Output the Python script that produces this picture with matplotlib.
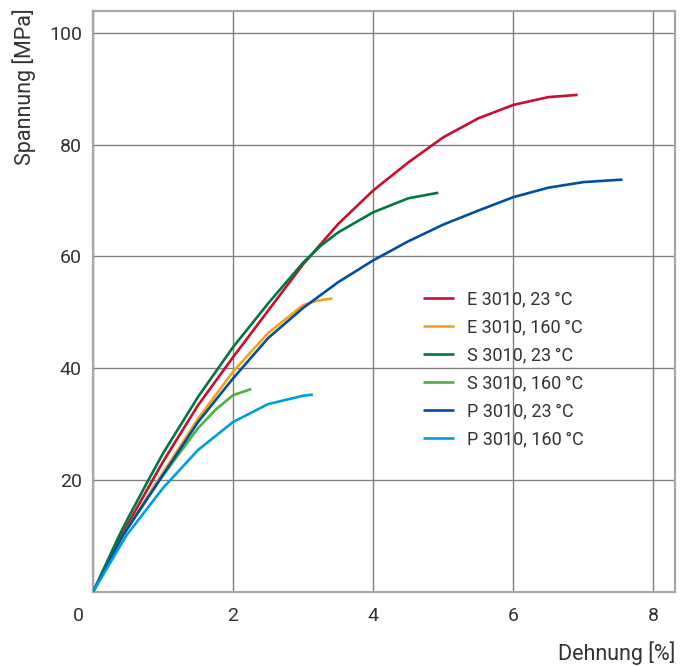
import matplotlib
matplotlib.use("Agg")
import matplotlib.pyplot as plt
import matplotlib.transforms as mtransforms

# strain [%] / stress [MPa]
e23_x = [0, 0.40, 0.85, 1.0, 1.5, 2.0, 2.5, 3.0, 3.5, 4.0, 4.5, 5.0, 5.5, 6.0, 6.5, 6.92]
e23_y = [0, 10, 20, 23.3, 33.4, 42.0, 50.3, 58.6, 65.8, 71.8, 76.8, 81.3, 84.7, 87.1, 88.5, 88.9]

e160_x = [0, 0.42, 0.93, 1.5, 2.0, 2.5, 3.0, 3.2, 3.42]
e160_y = [0, 10, 20, 31.0, 39.4, 46.3, 51.3, 52.1, 52.5]

s23_x = [0, 0.37, 0.5, 0.79, 1.0, 1.5, 2.0, 2.5, 3.0, 3.25, 3.5, 4.0, 4.5, 4.93]
s23_y = [0, 10, 13.2, 20, 24.8, 34.9, 43.8, 51.6, 58.9, 61.9, 64.3, 67.9, 70.4, 71.4]

s160_x = [0, 0.42, 0.95, 1.5, 1.75, 2.0, 2.26]
s160_y = [0, 10, 20, 29.3, 32.6, 35.2, 36.3]

p23_x = [0, 0.42, 0.95, 1.5, 2.0, 2.5, 3.0, 3.5, 4.0, 4.5, 5.0, 5.5, 6.0, 6.5, 7.0, 7.56]
p23_y = [0, 10, 20, 30.4, 38.2, 45.4, 50.8, 55.4, 59.3, 62.7, 65.7, 68.2, 70.6, 72.3, 73.3, 73.75]

p160_x = [0, 0.47, 1.0, 1.5, 2.0, 2.5, 3.0, 3.14]
p160_y = [0, 10, 18.6, 25.4, 30.4, 33.6, 35.1, 35.3]

labels = ["E 3010, 23\u2009°C", "E 3010, 160\u2009°C", "S 3010, 23\u2009°C",
          "S 3010, 160\u2009°C", "P 3010, 23\u2009°C", "P 3010, 160\u2009°C"]
colors = ["#c8102e", "#f7a11a", "#00793f", "#4cb140", "#0050a0", "#009ee0"]

xticks = [0, 2, 4, 6, 8]
yticks = [20, 40, 60, 80, 100]

plt.rcParams['font.family'] = ['Roboto', 'DejaVu Sans']
txt = "#333333"

fig = plt.figure(figsize=(6.92, 6.66), dpi=100)
ax = fig.add_axes([93/692, 1 - 592/666, 582/692, 581/666])

series = [(e23_x, e23_y), (e160_x, e160_y), (s23_x, s23_y),
          (s160_x, s160_y), (p23_x, p23_y), (p160_x, p160_y)]
for (xs, ys), lab, c in zip(series, labels, colors):
    ax.plot(xs, ys, color=c, lw=1.9, label=lab, solid_capstyle='butt',
            solid_joinstyle='round', zorder=3)

ax.set_xlim(0, 8.31)
ax.set_ylim(0, 103.9)
ax.set_xticks(xticks)
ax.set_yticks(yticks)
ax.grid(True, color="#808080", lw=1.0, zorder=1)
for sp in ax.spines.values():
    sp.set_color("#a8a8a8")
    sp.set_linewidth(1.6)
ax.tick_params(length=0, labelsize=14, colors=txt)
ax.tick_params(axis='x', pad=11)
ax.tick_params(axis='y', pad=8)

# the "0" sits a little left of the corner
shift = mtransforms.ScaledTranslation(-0.15, 0, fig.dpi_scale_trans)
lab0 = ax.get_xticklabels()[0]
lab0.set_transform(lab0.get_transform() + shift)

fig.text(12/692, 1 - 8/666, "Spannung [MPa]", rotation=90, ha='left', va='top',
         fontsize=15.5, color=txt)
fig.text(675/692, 1 - 653/666, "Dehnung [%]", ha='right', va='center',
         fontsize=15.5, color=txt)

ax.legend(loc='upper left', bbox_to_anchor=((423 - 93) / 582, (592 - 290) / 581),
          frameon=False, fontsize=13, handlelength=1.7, handletextpad=0.75,
          labelspacing=0.56, borderpad=0, borderaxespad=0, labelcolor=txt)

fig.savefig("out.png", dpi=100)
